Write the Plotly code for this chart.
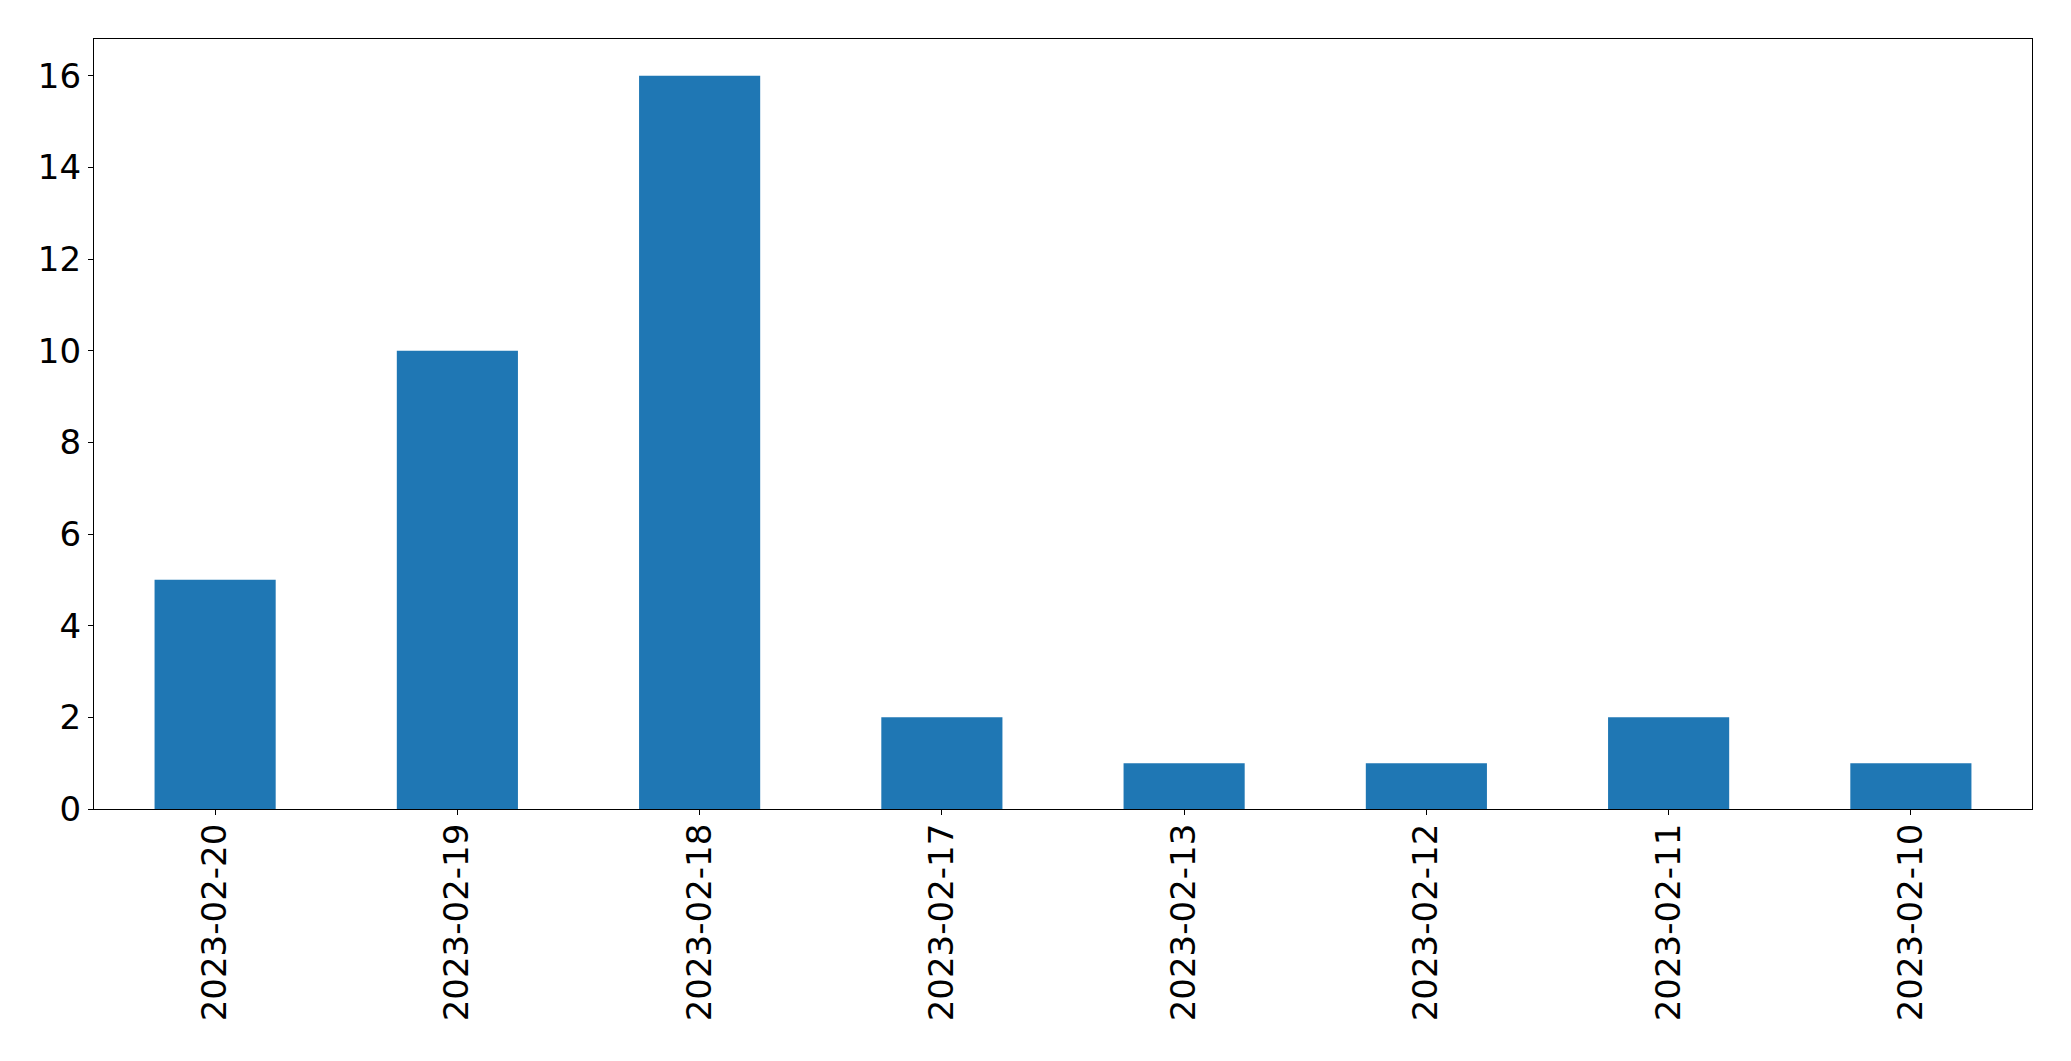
import plotly.graph_objects as go

dates = ["2023-02-20", "2023-02-19", "2023-02-18", "2023-02-17",
         "2023-02-13", "2023-02-12", "2023-02-11", "2023-02-10"]
counts = [5, 10, 16, 2, 1, 1, 2, 1]
y_ticks = [0, 2, 4, 6, 8, 10, 12, 14, 16]

fig = go.Figure(go.Bar(x=dates, y=counts, width=0.5, marker=dict(color="#1f77b4", line=dict(width=0))))

axis_common = dict(showline=True, linecolor="black", linewidth=1.2, mirror=True,
                   ticks="outside", ticklen=5, tickwidth=1.2, tickcolor="black",
                   showgrid=False, zeroline=False, automargin=False,
                   tickfont=dict(family="DejaVu Sans", size=34, color="black"))

fig.update_layout(
    width=2071, height=1061,
    margin=dict(l=94, r=39, t=39, b=252),
    plot_bgcolor="white", paper_bgcolor="white",
    showlegend=False,
    xaxis=dict(type="category", range=[-0.5, 7.5], tickangle=-90, ticklabelstandoff=-5, **axis_common),
    yaxis=dict(range=[0, 16.8], tickvals=y_ticks, ticklabelstandoff=0, **axis_common),
)

fig.write_html("out.html", config={"displayModeBar": False},
               post_script="document.body.style.margin='0';document.body.style.overflow='hidden';")
